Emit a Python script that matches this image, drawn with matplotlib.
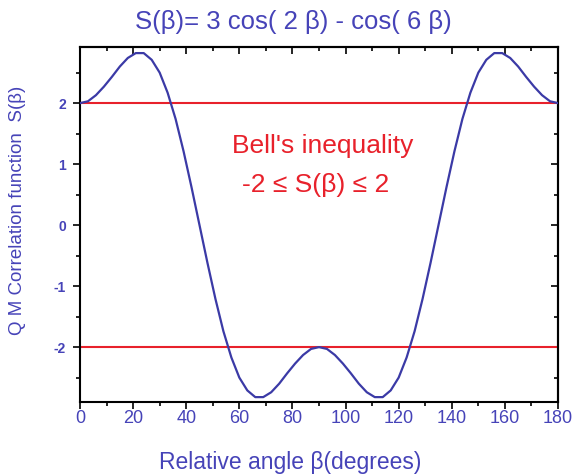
import matplotlib
matplotlib.use("Agg")
import matplotlib.pyplot as plt
from matplotlib.ticker import MultipleLocator

plt.rcParams['font.family'] = ['Liberation Sans', 'DejaVu Sans']
plt.rcParams['axes.unicode_minus'] = False

# beta in degrees (3-degree steps), S(beta) values read/evaluated at each point
beta_half = [0, 3, 6, 9, 12, 15, 18, 21, 24, 27, 30, 33, 36, 39, 42, 45,
             48, 51, 54, 57, 60, 63, 66, 69, 72, 75, 78, 81, 84, 87, 90]
s_half = [2.00, 2.03, 2.13, 2.27, 2.43, 2.60, 2.74, 2.82, 2.82, 2.71, 2.50,
          2.17, 1.74, 1.21, 0.62, 0.00, -0.62, -1.21, -1.74, -2.17, -2.50,
          -2.71, -2.82, -2.82, -2.74, -2.60, -2.43, -2.27, -2.13, -2.03, -2.00]
beta = beta_half + [180 - b for b in reversed(beta_half[:-1])]
s_vals = s_half + list(reversed(s_half[:-1]))

bell_levels = [2, -2]
x_ticks = [0, 20, 40, 60, 80, 100, 120, 140, 160, 180]
y_ticks = [-2, -1, 0, 1, 2]

blue = '#3b3aa6'
label_blue = '#4643b8'
red = '#e8212b'

fig = plt.figure(figsize=(5.73, 4.76), dpi=100)
ax = fig.add_axes([80/573, 1-402/476, 478/573, 355/476])

ax.plot(beta, s_vals, color=blue, lw=1.6, zorder=3)
for lv in bell_levels:
    ax.axhline(lv, color=red, lw=1.5, zorder=2)

ax.set_xlim(0, 180)
ax.set_ylim(-2.9, 2.92)
ax.set_xticks(x_ticks)
ax.set_yticks(y_ticks)
ax.xaxis.set_minor_locator(MultipleLocator(10))
ax.yaxis.set_minor_locator(MultipleLocator(0.5))

ax.tick_params(which='both', direction='out', top=False, right=False,
               colors='black', labelcolor=label_blue, width=1.2)
ax.tick_params(which='major', length=5)
ax.tick_params(which='minor', length=3)
ax.tick_params(axis='x', labelsize=13, pad=1)
ax.tick_params(axis='y', labelsize=10, pad=5)

# mirrored inward ticks on top/right
axt = ax.secondary_xaxis('top')
axt.set_xticks(x_ticks)
axt.xaxis.set_minor_locator(MultipleLocator(10))
axt.tick_params(which='both', direction='in', labeltop=False, width=1.2)
axt.tick_params(which='major', length=5)
axt.tick_params(which='minor', length=3)
axr = ax.secondary_yaxis('right')
axr.set_yticks(y_ticks)
axr.yaxis.set_minor_locator(MultipleLocator(0.5))
axr.tick_params(which='both', direction='in', labelright=False, width=1.2)
axr.tick_params(which='major', length=5)
axr.tick_params(which='minor', length=3)
for sp in list(ax.spines.values()) + [axt.spines['top'], axr.spines['right']]:
    sp.set_linewidth(1.5)

for lbl in ax.get_yticklabels():
    lbl.set_fontweight('bold')

fig.text(293/573, 1-22/476, 'S(β)= 3 cos( 2 β) - cos( 6 β)', color=label_blue,
         fontsize=18.5, ha='center', va='center')
fig.text(290/573, 1-462/476, 'Relative angle β(degrees)', color=label_blue,
         fontsize=16.5, ha='center', va='center')
fig.text(18/573, 1-210/476, 'Q M Correlation function  S(β)', color=label_blue,
         fontsize=13.5, ha='center', va='center', rotation=90)

ax.text(0.508, 0.721, "Bell's inequality", transform=ax.transAxes, color=red,
        fontsize=19, ha='center', va='center')
ax.text(0.492, 0.611, "-2 \u2264 S(β) \u2264 2", transform=ax.transAxes, color=red,
        fontsize=19, ha='center', va='center')

fig.savefig('out.png', dpi=100)
